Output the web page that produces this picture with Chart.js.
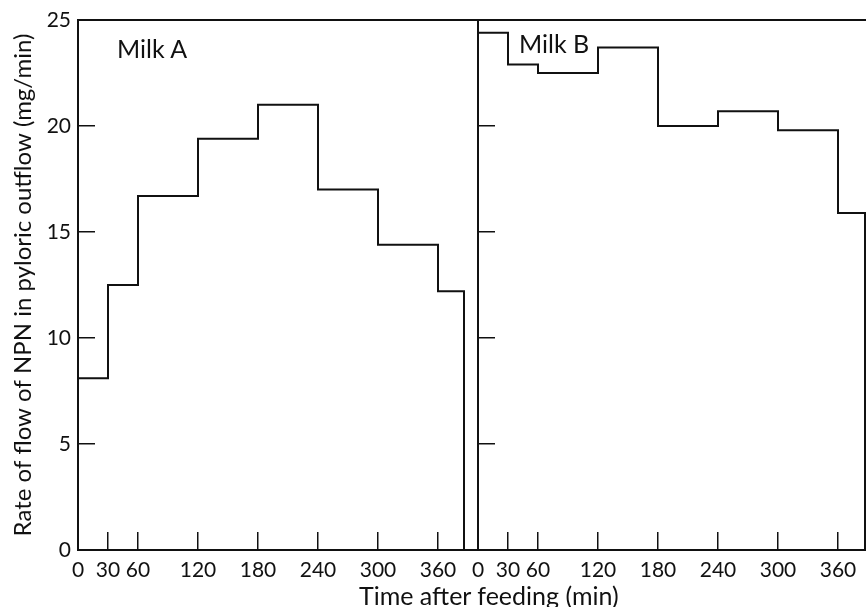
<!DOCTYPE html>
<html>
<head>
<meta charset="utf-8">
<script src="https://cdn.jsdelivr.net/npm/chart.js@4.4.1/dist/chart.umd.min.js"></script>
<style>
  body { margin: 0; background: #fff; }
  #wrap { position: relative; width: 866px; height: 607px; overflow: hidden; font-family: Lato, sans-serif; color: #111; }
  canvas { position: absolute; top: 0; }
  #chartA { left: 0; }
  #chartB { left: 470px; }
  .panel-label { position: absolute; font-size: 25px; white-space: nowrap; }
  #xTitle { position: absolute; top: 580px; left: 359px; font-size: 25px; white-space: nowrap; }
</style>
</head>
<body>
<div id="wrap">
  <canvas id="chartA" width="478" height="607"></canvas>
  <canvas id="chartB" width="396" height="607"></canvas>
  <div class="panel-label" style="left:117px; top:33px;">Milk A</div>
  <div class="panel-label" style="left:519px; top:28px;">Milk B</div>
  <div id="xTitle">Time after feeding (min)</div>
</div>
<script>
// start of each collection period (min)
const binStarts = [0, 30, 60, 120, 180, 240, 300, 360];
// rate of flow of NPN (mg/min) in each period
const milkA = [8.1, 12.5, 16.7, 19.4, 21.0, 17.0, 14.4, 12.2];
const milkB = [24.4, 22.9, 22.5, 23.7, 20.0, 20.7, 19.8, 15.9];
// end of the last period
const endA = 386;
const endB = 387;

const xTicks = [0, 30, 60, 120, 180, 240, 300, 360];
const yTicks = [0, 5, 10, 15, 20, 25];

const ink = '#111';
const font = { family: 'Lato', size: 21 };

function stepPoints(values, end) {
  const pts = values.map((v, i) => ({ x: binStarts[i], y: v }));
  pts.push({ x: end, y: values[values.length - 1] });
  pts.push({ x: end, y: 0 });
  return pts;
}

// fix an axis box size and drop the label overflow padding
function fixBox(w, h) {
  return s => {
    if (w !== null) s.width = w;
    if (h !== null) s.height = h;
    s.paddingLeft = s.paddingRight = s.paddingTop = s.paddingBottom = 0;
  };
}

function makeChart(id, values, end, xMax, withLabels) {
  return new Chart(document.getElementById(id), {
    type: 'line',
    data: {
      datasets: [{
        data: stepPoints(values, end),
        stepped: true,
        borderColor: ink,
        borderWidth: 2,
        pointRadius: 0,
        fill: false
      }]
    },
    options: {
      responsive: false,
      animation: false,
      layout: { padding: { right: withLabels ? 1 : 0 } },
      plugins: { legend: { display: false }, tooltip: { enabled: false } },
      scales: {
        x: {
          type: 'linear',
          min: 0,
          max: xMax,
          afterBuildTicks: s => { s.ticks = xTicks.map(v => ({ value: v })); },
          afterFit: fixBox(null, 57),
          ticks: { font: font, color: ink, padding: 26, maxRotation: 0, autoSkip: false },
          grid: { drawOnChartArea: false, drawTicks: true, tickLength: -18, color: ink, lineWidth: 1.5 },
          border: { display: true, color: ink, width: 2 }
        },
        xTop: {
          type: 'linear',
          position: 'top',
          ticks: { display: false },
          grid: { display: false },
          border: { display: true, color: ink, width: 2 },
          afterFit: fixBox(null, 20)
        },
        y: {
          min: 0,
          max: 25,
          afterBuildTicks: s => { s.ticks = yTicks.map(v => ({ value: v })); },
          afterFit: fixBox(withLabels ? 78 : 8, null),
          ticks: { display: withLabels, font: font, color: ink, padding: 24 },
          grid: { drawOnChartArea: false, drawTicks: true, tickLength: -17, color: ink, lineWidth: 1.5 },
          border: { display: true, color: ink, width: 2 },
          title: {
            display: withLabels,
            text: 'Rate of flow of NPN in pyloric outflow (mg/min)',
            font: { family: 'Lato', size: 24 },
            color: ink,
            padding: { top: 9, bottom: 0 }
          }
        }
      }
    }
  });
}

makeChart('chartA', milkA, endA, 399, true);
makeChart('chartB', milkB, endB, 388, false);
</script>
</body>
</html>
